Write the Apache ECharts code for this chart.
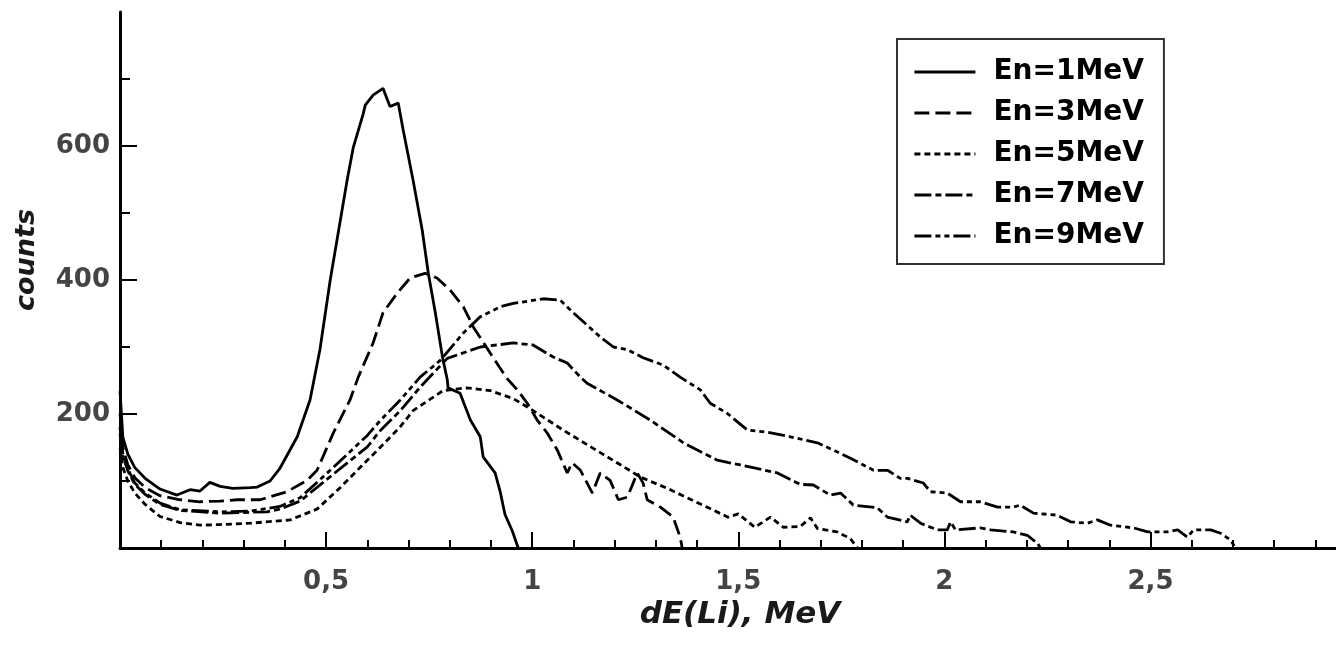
<!DOCTYPE html>
<html>
<head>
<meta charset="utf-8">
<script src="https://cdn.jsdelivr.net/npm/echarts@6/dist/echarts.min.js"></script>
<style>
html,body{margin:0;padding:0;background:#fff;}
#chart{width:1336px;height:646px;}
</style>
</head>
<body>
<div id="chart"></div>
<script>
// ---- data (E in MeV, counts) ----
const seriesNames = ['En=1MeV', 'En=3MeV', 'En=5MeV', 'En=7MeV', 'En=9MeV'];

const en1 = [[0,235],[0.007,165],[0.019,140],[0.036,120],[0.061,104],[0.097,88],[0.138,79],[0.17,87],[0.194,85],[0.218,98],[0.243,92],[0.274,89],[0.316,90],[0.333,91],[0.364,100],[0.388,119],[0.43,166],[0.461,221],[0.485,296],[0.51,400],[0.551,549],[0.566,598],[0.59,648],[0.595,661],[0.614,676],[0.638,686],[0.655,659],[0.675,664],[0.687,624],[0.711,549],[0.733,475],[0.748,410],[0.765,351],[0.782,286],[0.794,251],[0.796,239],[0.825,231],[0.85,191],[0.874,166],[0.881,136],[0.91,112],[0.922,85],[0.934,50],[0.952,25],[0.966,0]];

const en3 = [[0,200],[0.007,150],[0.019,124],[0.036,105],[0.061,90],[0.097,78],[0.146,72],[0.194,69],[0.243,70],[0.284,72],[0.34,72],[0.405,84],[0.454,101],[0.478,116],[0.517,171],[0.558,221],[0.578,255],[0.607,296],[0.614,306],[0.638,351],[0.672,380],[0.704,403],[0.74,410],[0.769,403],[0.801,385],[0.833,360],[0.857,330],[0.898,291],[0.939,253],[0.964,236],[0.988,216],[1.012,191],[1.036,172],[1.061,146],[1.085,112],[1.097,127],[1.117,116],[1.146,82],[1.165,112],[1.189,101],[1.209,72],[1.231,76],[1.255,112],[1.269,97],[1.279,72],[1.311,61],[1.342,46],[1.359,16],[1.364,0]];

const en5 = [[0,150],[0.007,120],[0.019,100],[0.036,82],[0.061,65],[0.097,47],[0.146,38],[0.194,34],[0.243,35],[0.316,37],[0.413,42],[0.478,58],[0.534,90],[0.6,131],[0.631,150],[0.68,181],[0.711,205],[0.784,235],[0.842,239],[0.898,235],[0.954,223],[0.995,208],[1.075,176],[1.15,148],[1.22,122],[1.262,106],[1.328,89],[1.4,68],[1.475,46],[1.5,51],[1.54,31],[1.578,46],[1.609,31],[1.65,32],[1.675,45],[1.692,29],[1.74,24],[1.772,14],[1.789,0]];

const en7 = [[0,180],[0.007,140],[0.019,115],[0.036,95],[0.061,80],[0.097,65],[0.146,56],[0.243,52],[0.357,54],[0.388,58],[0.437,70],[0.517,110],[0.6,151],[0.631,175],[0.68,205],[0.728,240],[0.794,283],[0.874,300],[0.954,306],[1.002,303],[1.051,285],[1.085,276],[1.117,255],[1.133,246],[1.206,221],[1.286,191],[1.367,157],[1.449,131],[1.505,124],[1.595,112],[1.65,95],[1.682,94],[1.723,79],[1.748,82],[1.779,64],[1.837,60],[1.862,46],[1.91,39],[1.917,49],[1.942,37],[1.983,27],[2.007,27],[2.015,39],[2.027,27],[2.087,30],[2.112,27],[2.167,24],[2.201,19],[2.226,7],[2.233,0]];

const en9 = [[0,170],[0.007,135],[0.019,118],[0.036,97],[0.061,82],[0.097,67],[0.146,57],[0.243,54],[0.316,55],[0.388,62],[0.437,75],[0.517,120],[0.6,168],[0.631,190],[0.68,221],[0.728,255],[0.777,280],[0.833,321],[0.874,345],[0.922,360],[0.954,365],[1.027,372],[1.068,370],[1.1,351],[1.165,315],[1.197,300],[1.231,296],[1.269,284],[1.318,273],[1.359,255],[1.408,236],[1.432,216],[1.473,201],[1.522,176],[1.57,173],[1.626,166],[1.692,157],[1.731,146],[1.772,134],[1.828,116],[1.862,116],[1.893,104],[1.91,104],[1.949,97],[1.966,84],[2.007,82],[2.039,69],[2.087,69],[2.129,61],[2.167,61],[2.184,64],[2.216,52],[2.274,49],[2.306,39],[2.347,37],[2.371,42],[2.403,34],[2.459,30],[2.493,24],[2.541,24],[2.566,27],[2.59,16],[2.604,27],[2.646,27],[2.67,22],[2.694,12],[2.706,0]];

// ---- tick labels / tick positions ----
const xMajorTicks = [0.5, 1, 1.5, 2, 2.5];
const xMinorTicks = [0.1,0.2,0.3,0.4,0.6,0.7,0.8,0.9,1.1,1.2,1.3,1.4,1.6,1.7,1.8,1.9,2.1,2.2,2.3,2.4,2.6,2.7,2.8,2.9];
const yMajorTicks = [200, 400, 600];
const yMinorTicks = [100, 300, 500, 700];

const FONT = 'DejaVu Sans';
const seriesData = [en1, en3, en5, en7, en9];
const dashes = ['solid', [15, 6], [6, 4], [17, 4, 6, 4], [17, 4, 5, 4, 5, 4]];

const chart = echarts.init(document.getElementById('chart'), null, {renderer: 'canvas'});

const baseX = {
  type: 'value', min: 0, max: 2.95, position: 'bottom',
  splitLine: {show: false}
};
const baseY = {
  type: 'value', min: 0, max: 800, position: 'left',
  splitLine: {show: false}
};

chart.setOption({
  animation: false,
  backgroundColor: '#fff',
  grid: {left: 120, top: 12, right: 0, height: 536, containLabel: false},
  legend: {
    orient: 'vertical',
    left: 897, top: 39,
    padding: [19, 20, 14, 16],
    itemWidth: 61, itemHeight: 28, itemGap: 13,
    borderColor: '#333', borderWidth: 2,
    selectedMode: false,
    itemStyle: {opacity: 0, borderWidth: 0},
    lineStyle: {width: 2.8},
    data: seriesNames,
    textStyle: {fontFamily: FONT, fontWeight: 'bold', fontSize: 28, color: '#000', padding: [0, 0, 0, 13]}
  },
  xAxis: [
    Object.assign({}, baseX, {
      name: 'dE(Li), MeV', nameLocation: 'middle', nameGap: 44,
      nameTextStyle: {fontFamily: FONT, fontWeight: 'bold', fontStyle: 'italic', fontSize: 31, color: '#1a1a1a', padding: [0, 0, 0, 24]},
      axisLine: {show: true, lineStyle: {color: '#000', width: 3}},
      axisTick: {show: true, inside: true, length: 16, customValues: xMajorTicks, lineStyle: {color: '#000', width: 2}},
      axisLabel: {show: true, margin: 21, customValues: xMajorTicks, fontFamily: FONT, fontWeight: 'bold', fontSize: 26, color: '#444',
        formatter: v => String(v).replace('.', ',')}
    }),
    Object.assign({}, baseX, {
      axisLine: {show: false},
      axisTick: {show: true, inside: true, length: 8, customValues: xMinorTicks, lineStyle: {color: '#000', width: 2}},
      axisLabel: {show: false}
    })
  ],
  yAxis: [
    Object.assign({}, baseY, {
      name: 'counts', nameLocation: 'middle', nameGap: 80,
      nameTextStyle: {fontFamily: FONT, fontWeight: 'bold', fontStyle: 'italic', fontSize: 27, color: '#1a1a1a', padding: [0, 0, 0, 40]},
      axisLine: {show: true, lineStyle: {color: '#000', width: 3}},
      axisTick: {show: true, inside: true, length: 17, customValues: yMajorTicks, lineStyle: {color: '#000', width: 2}},
      axisLabel: {show: true, margin: 10, customValues: yMajorTicks, fontFamily: FONT, fontWeight: 'bold', fontSize: 26, color: '#444'}
    }),
    Object.assign({}, baseY, {
      axisLine: {show: false},
      axisTick: {show: true, inside: true, length: 10, customValues: yMinorTicks, lineStyle: {color: '#000', width: 2}},
      axisLabel: {show: false}
    })
  ],
  series: seriesNames.map((name, i) => ({
    name: name,
    type: 'line',
    xAxisIndex: 0, yAxisIndex: 0,
    data: seriesData[i],
    symbol: 'none', showSymbol: false,
    smooth: false,
    lineStyle: {color: '#000', width: 2.8, type: dashes[i]},
    itemStyle: {color: '#000'}
  }))
});
</script>
</body>
</html>
